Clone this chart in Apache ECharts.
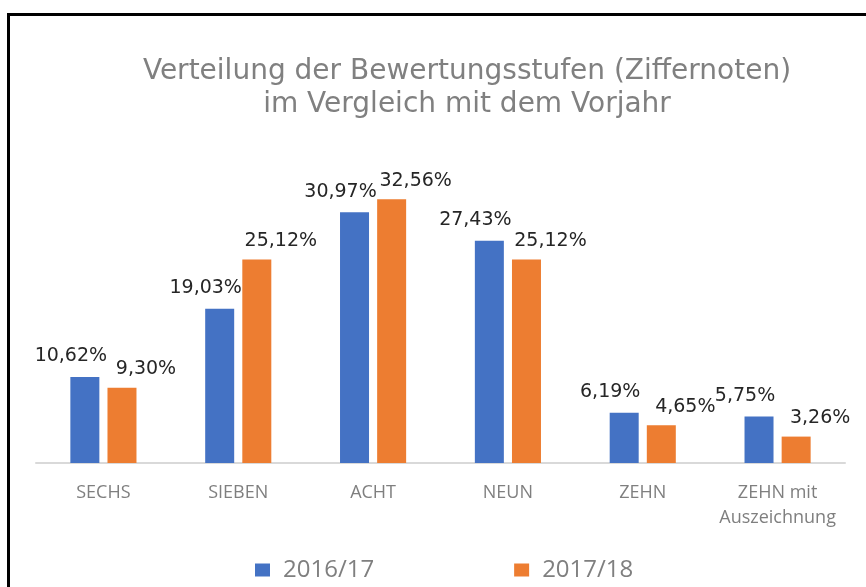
<!DOCTYPE html>
<html lang="de">
<head>
<meta charset="UTF-8">
<title>Verteilung der Bewertungsstufen</title>
<script src="https://cdn.jsdelivr.net/npm/echarts@6.0.0/dist/echarts.min.js"></script>
</head>
<body style="margin:0;background:#fff;">
<div id="chart" style="width:866px;height:587px;"></div>
<script>
var categories = ['SECHS', 'SIEBEN', 'ACHT', 'NEUN', 'ZEHN', 'ZEHN mit\nAuszeichnung'];
var seriesNames = ['2016/17', '2017/18'];
var values1617 = [10.62, 19.03, 30.97, 27.43, 6.19, 5.75];
var values1718 = [9.30, 25.12, 32.56, 25.12, 4.65, 3.26];

// Excel-Stil: 10.62 -> "10,62%"
var fmt = function (p) {
    return p.value.toFixed(2).replace('.', ',') + '%';
};

var chart = echarts.init(document.getElementById('chart'));

var font = 'Open Sans';
var wide = 'DejaVu Sans';

chart.setOption({
    backgroundColor: '#fff',
    animation: false,
    title: {
        text: 'Verteilung der Bewertungsstufen (Ziffernoten)\nim Vergleich mit dem Vorjahr',
        left: 462,
        top: 50,
        textAlign: 'center',
        textStyle: {
            color: '#808080',
            fontSize: 28,
            fontWeight: 'normal',
            fontFamily: wide,
            lineHeight: 33
        }
    },
    // Rahmen oben und links
    graphic: [
        { type: 'rect', shape: { x: 7, y: 13, width: 859, height: 3 }, style: { fill: '#000' } },
        { type: 'rect', shape: { x: 7, y: 13, width: 3, height: 574 }, style: { fill: '#000' } }
    ],
    legend: {
        data: seriesNames,
        left: 250,
        top: 553,
        icon: 'rect',
        itemWidth: 15,
        itemHeight: 13,
        itemGap: 140,
        textStyle: { color: '#7f7f7f', fontSize: 24, fontFamily: font, padding: [0, 0, 0, 8] }
    },
    grid: { left: 36, right: 21, top: 139, bottom: 124 },
    xAxis: {
        type: 'category',
        data: categories,
        axisTick: { show: false },
        axisLine: { lineStyle: { color: '#d9d9d9', width: 2 } },
        axisLabel: {
            interval: 0,
            color: '#7f7f7f',
            fontSize: 18,
            fontFamily: font,
            margin: 17,
            lineHeight: 25
        }
    },
    yAxis: {
        type: 'value',
        min: 0,
        max: 40,
        show: false,
        splitLine: { show: false }
    },
    series: [
        {
            name: seriesNames[0],
            type: 'bar',
            data: values1617,
            barWidth: 29,
            barGap: '28%',
            itemStyle: { color: '#4472C4' },
            label: {
                show: true,
                position: 'top',
                distance: 9,
                offset: [-14, -2],
                color: '#262626',
                fontSize: 19,
                fontFamily: wide,
                formatter: fmt
            }
        },
        {
            name: seriesNames[1],
            type: 'bar',
            data: values1718,
            barWidth: 29,
            itemStyle: { color: '#ED7D31' },
            label: {
                show: true,
                position: 'top',
                distance: 9,
                offset: [24, 0],
                color: '#262626',
                fontSize: 19,
                fontFamily: wide,
                formatter: fmt
            }
        }
    ]
});
</script>
</body>
</html>
